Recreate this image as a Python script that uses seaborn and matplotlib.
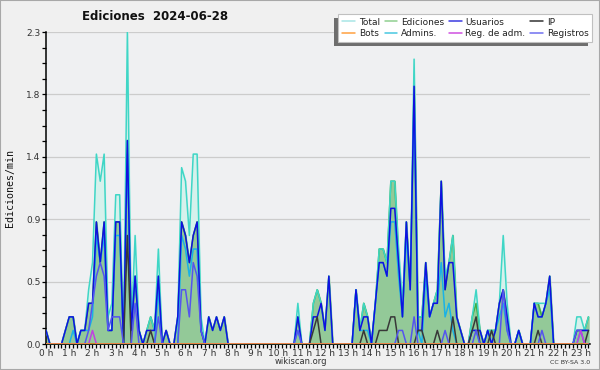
import matplotlib
matplotlib.use("Agg")
import matplotlib.pyplot as plt
from matplotlib.lines import Line2D
from matplotlib.patches import Rectangle
import numpy as np
import seaborn as sns

# one value every 10 minutes, edits per minute (00:00 .. 23:20)
usuarios = [
    0.1, 0, 0, 0, 0, 0.1,  0.2, 0.2, 0, 0.1, 0.1, 0.3,  0.3, 0.9, 0.6, 0.9, 0.1, 0.1,  0.9, 0.9, 0, 1.5, 0.1, 0.5,
    0.1, 0, 0.1, 0.1, 0.1, 0.5,  0, 0.1, 0, 0, 0.2, 0.9,  0.8, 0.6, 0.8, 0.9, 0.1, 0,  0.2, 0.1, 0.2, 0.1, 0.2, 0,
    0, 0, 0, 0, 0, 0,  0, 0, 0, 0, 0, 0,  0, 0, 0, 0, 0, 0.2,  0, 0, 0, 0.2, 0.2, 0.3,
    0.1, 0.5, 0, 0, 0, 0,  0, 0, 0.4, 0.1, 0.2, 0.2,  0, 0.3, 0.6, 0.6, 0.5, 1.0,  1.0, 0.6, 0.2, 0.9, 0.4, 1.9,
    0.1, 0.1, 0.6, 0.2, 0.3, 0.3,  1.2, 0.4, 0.6, 0.6, 0.2, 0.1,  0, 0, 0.1, 0.1, 0.1, 0,  0.1, 0, 0.1, 0.3, 0.4, 0.2,
    0, 0, 0.1, 0, 0, 0,  0.3, 0.2, 0.2, 0.3, 0.5, 0,  0, 0, 0, 0, 0, 0.1,  0.1, 0.1, 0.1,
]
ip = [
    0, 0, 0, 0, 0, 0,  0, 0, 0, 0, 0, 0,  0, 0, 0, 0, 0, 0,  0, 0, 0, 0.8, 0, 0,
    0, 0, 0, 0.1, 0, 0,  0, 0, 0, 0, 0, 0,  0, 0, 0, 0, 0, 0,  0, 0, 0, 0, 0, 0,
    0, 0, 0, 0, 0, 0,  0, 0, 0, 0, 0, 0,  0, 0, 0, 0, 0, 0,  0, 0, 0, 0.1, 0.2, 0,
    0, 0, 0, 0, 0, 0,  0, 0, 0, 0, 0.1, 0,  0, 0, 0.1, 0.1, 0.1, 0.2,  0.2, 0, 0, 0, 0, 0,
    0.1, 0.1, 0, 0, 0, 0.1,  0, 0, 0, 0.2, 0, 0,  0, 0, 0.1, 0.2, 0, 0,  0, 0.1, 0, 0, 0, 0,
    0, 0, 0, 0, 0, 0,  0, 0.1, 0, 0, 0, 0,  0, 0, 0, 0, 0, 0,  0, 0, 0.1,
]
ediciones = [
    0.1, 0, 0, 0, 0, 0.1,  0.2, 0.2, 0, 0.1, 0.1, 0.3,  0.3, 0.9, 0.6, 0.9, 0.1, 0.1,  0.9, 0.9, 0, 1.5, 0.1, 0.5,
    0.1, 0, 0.1, 0.2, 0.1, 0.5,  0, 0.1, 0, 0, 0.2, 0.9,  0.8, 0.6, 0.8, 0.9, 0.1, 0,  0.2, 0.1, 0.2, 0.1, 0.2, 0,
    0, 0, 0, 0, 0, 0,  0, 0, 0, 0, 0, 0,  0, 0, 0, 0, 0, 0.2,  0, 0, 0, 0.3, 0.4, 0.3,
    0.1, 0.5, 0, 0, 0, 0,  0, 0, 0.4, 0.1, 0.3, 0.2,  0, 0.3, 0.7, 0.7, 0.6, 1.2,  1.2, 0.6, 0.2, 0.9, 0.4, 1.9,
    0.2, 0.2, 0.6, 0.2, 0.3, 0.4,  1.2, 0.4, 0.6, 0.8, 0.2, 0.1,  0, 0, 0.2, 0.3, 0.1, 0,  0.1, 0.1, 0.1, 0.3, 0.4, 0.2,
    0, 0, 0.1, 0, 0, 0,  0.3, 0.3, 0.2, 0.3, 0.5, 0,  0, 0, 0, 0, 0, 0.1,  0.1, 0.1, 0.2,
]
registros = [
    0, 0, 0, 0, 0, 0,  0, 0, 0, 0, 0, 0.1,  0.3, 0.5, 0.6, 0.5, 0.1, 0.2,  0.2, 0.2, 0, 0, 0, 0.3,
    0, 0, 0, 0, 0, 0.2,  0, 0, 0, 0, 0, 0.4,  0.4, 0.2, 0.6, 0.5, 0.1, 0,  0, 0, 0, 0, 0, 0,
    0, 0, 0, 0, 0, 0,  0, 0, 0, 0, 0, 0,  0, 0, 0, 0, 0, 0.1,  0, 0, 0, 0, 0, 0,
    0, 0, 0, 0, 0, 0,  0, 0, 0, 0, 0, 0,  0, 0, 0, 0, 0, 0,  0, 0.1, 0.1, 0, 0, 0.2,
    0, 0, 0, 0, 0, 0,  0, 0.1, 0, 0, 0, 0,  0, 0, 0, 0.1, 0, 0,  0, 0, 0, 0, 0.4, 0.1,
    0, 0, 0, 0, 0, 0,  0, 0, 0.1, 0, 0, 0,  0, 0, 0, 0, 0, 0.1,  0.1, 0, 0,
]
total = [
    0.1, 0, 0, 0, 0, 0.1,  0.2, 0.2, 0, 0.1, 0.1, 0.4,  0.6, 1.4, 1.2, 1.4, 0.2, 0.3,  1.1, 1.1, 0, 2.3, 0.1, 0.8,
    0.1, 0, 0.1, 0.2, 0.1, 0.7,  0, 0.1, 0, 0, 0.2, 1.3,  1.2, 0.8, 1.4, 1.4, 0.2, 0,  0.2, 0.1, 0.2, 0.1, 0.2, 0,
    0, 0, 0, 0, 0, 0,  0, 0, 0, 0, 0, 0,  0, 0, 0, 0, 0, 0.3,  0, 0, 0, 0.3, 0.4, 0.3,
    0.1, 0.5, 0, 0, 0, 0,  0, 0, 0.4, 0.1, 0.3, 0.2,  0, 0.3, 0.7, 0.7, 0.6, 1.2,  1.2, 0.7, 0.3, 0.9, 0.4, 2.1,
    0.2, 0.2, 0.6, 0.2, 0.3, 0.4,  1.2, 0.5, 0.6, 0.8, 0.2, 0.1,  0, 0, 0.2, 0.4, 0.1, 0,  0.1, 0.1, 0.1, 0.3, 0.8, 0.3,
    0, 0, 0.1, 0, 0, 0,  0.3, 0.3, 0.3, 0.3, 0.5, 0,  0, 0, 0, 0, 0, 0.2,  0.2, 0.1, 0.2,
]
admins = [
    0, 0, 0, 0, 0, 0,  0, 0.1, 0, 0.1, 0.1, 0.1,  0.2, 0.8, 0.6, 0.8, 0.1, 0.1,  0.8, 0.8, 0, 1.4, 0.1, 0.5,
    0.1, 0, 0, 0, 0, 0.4,  0, 0, 0, 0, 0, 0.8,  0.7, 0.5, 0.7, 0.7, 0.1, 0,  0, 0, 0, 0, 0, 0,
    0, 0, 0, 0, 0, 0,  0, 0, 0, 0, 0, 0,  0, 0, 0, 0, 0, 0.1,  0, 0, 0, 0, 0, 0,
    0, 0, 0, 0, 0, 0,  0, 0, 0.4, 0.1, 0.1, 0.1,  0, 0.3, 0.6, 0.6, 0.5, 0.9,  0.9, 0.5, 0.2, 0.8, 0.4, 1.8,
    0.1, 0, 0.5, 0.2, 0.3, 0.3,  0.6, 0.2, 0.3, 0.1, 0, 0,  0, 0, 0.1, 0.1, 0, 0,  0.1, 0, 0.1, 0.2, 0.3, 0.1,
    0, 0, 0.1, 0, 0, 0,  0.3, 0.2, 0.2, 0.3, 0.4, 0,  0, 0, 0, 0, 0, 0,  0.1, 0.1, 0.1,
]
reg_adm = [0.0] * 141
reg_adm[12] = 0.1
reg_adm[138] = 0.1
bots = [0.0] * 141

y_labels = ["0.0", "0.5", "0.9", "1.4", "1.8", "2.3"]
hour_labels = [f"{h} h" for h in range(24)]

slot = np.arange(len(total))

sns.set_style("ticks")
plt.rcParams["font.family"] = ["DejaVu Sans"]

fig = plt.figure(figsize=(6, 3.7), dpi=100)
fig.patch.set_facecolor("#f0f0f0")
ax = fig.add_axes([46 / 600, 26 / 370, 544 / 600, 312 / 370])
ax.set_facecolor("#eff0f2")

ymax = 2.3
for g in np.linspace(0, ymax, 6)[1:]:
    ax.axhline(g, color="#cccccc", lw=0.9, zorder=0)

# filled areas first
ax.fill_between(slot, total, color="#d6f1ec", zorder=1)
ax.fill_between(slot, ediciones, color="#93c998", zorder=2)

series = [
    ("Ediciones", ediciones, "#3fae3f"),
    ("Total", total, "#3fd6c6"),
    ("Admins.", admins, "#1ab2e6"),
    ("Usuarios", usuarios, "#1010e0"),
    ("IP", ip, "#383838"),
    ("Registros", registros, "#5555ee"),
    ("Reg. de adm.", reg_adm, "#c040e0"),
    ("Bots", bots, "#ff9a20"),
]
for k, (name, vals, col) in enumerate(series):
    sns.lineplot(x=slot, y=vals, ax=ax, color=col, lw=1.1, zorder=3 + k, legend=False)

ax.set_xlim(0, 140.4)
ax.set_ylim(0, ymax)
ax.set_xlabel("")
ax.set_ylabel("")

ax.set_yticks(np.linspace(0, ymax, 6))
ax.set_yticklabels(y_labels)
ax.set_yticks(np.linspace(0, ymax, 21), minor=True)
ax.set_xticks(np.arange(0, 141, 6))
ax.set_xticklabels(hour_labels)
ax.set_xticks(np.arange(0, 141), minor=True)
ax.tick_params(axis="both", which="both", direction="out", length=3, width=0.9,
               color="black", labelsize=6.5, labelcolor="#333333", pad=1)
ax.tick_params(axis="x", which="both", length=3, pad=0.5)

for s in ["top", "right"]:
    ax.spines[s].set_visible(False)
for s in ["left", "bottom"]:
    ax.spines[s].set_color("black")
    ax.spines[s].set_linewidth(1.1)

fig.text(0.258, 0.955, "Ediciones  2024-06-28", fontsize=8.5, fontweight="bold",
         ha="center", va="center", color="#111111")
fig.text(0.016, 0.492, "Ediciones/min", rotation=90, fontsize=7.2,
         family="DejaVu Sans Mono", ha="center", va="center", color="#111111")
fig.text(301 / 600, 1 - 362 / 370, "wikiscan.org", fontsize=6, ha="center",
         va="center", color="#333333")
fig.text(590 / 600, 1 - 363 / 370, "CC BY-SA 3.0", fontsize=4.5, ha="right",
         va="center", color="#333333")

legend_colors = {
    "Total": "#a8e6e6", "Ediciones": "#8fd08f", "Usuarios": "#3a3ae0", "IP": "#333333",
    "Bots": "#ffa040", "Admins.": "#48c8e0", "Reg. de adm.": "#d050e0", "Registros": "#7070f0",
}
order = ["Total", "Bots", "Ediciones", "Admins.", "Usuarios", "Reg. de adm.", "IP", "Registros"]
handles = [Line2D([], [], color=legend_colors[n], lw=1.1) for n in order]
leg = fig.legend(handles, order, loc="upper right", bbox_to_anchor=(597 / 600, 1 - 9 / 370),
                 ncol=4, fontsize=6.5, handlelength=1.4, handletextpad=0.4, columnspacing=0.55,
                 labelspacing=0.3, borderpad=0.45, fancybox=False, framealpha=1)
leg.get_frame().set_edgecolor("#c0c0c0")
leg.get_frame().set_linewidth(0.8)
for t in leg.get_texts():
    t.set_color("#222222")

# shadow to the left and below the legend box
fig.canvas.draw()
bb = leg.get_window_extent()
shadow = Rectangle(((bb.x0 - 4) / 600, (bb.y0 - 4) / 370), bb.width / 600, bb.height / 370,
                   transform=fig.transFigure, facecolor="#6e6e6e", edgecolor="none", zorder=4)
fig.add_artist(shadow)

fig.add_artist(Rectangle((0, 0), 1, 1, transform=fig.transFigure, fill=False,
                         edgecolor="#a8a8a8", lw=1.5))

fig.savefig("out.png", dpi=100, facecolor=fig.get_facecolor())
